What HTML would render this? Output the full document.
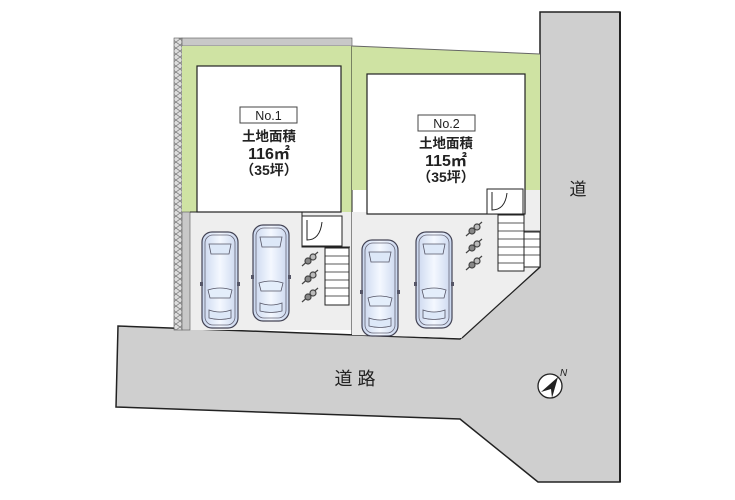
<!DOCTYPE html>
<html><head><meta charset="utf-8"><style>
html,body{margin:0;padding:0;background:#fff;width:735px;height:500px;overflow:hidden}
svg text{font-family:"Liberation Sans","Noto Sans CJK JP",sans-serif}
</style></head><body>
<svg width="735" height="500" viewBox="0 0 735 500" xmlns="http://www.w3.org/2000/svg">
<defs>
<pattern id="hx" width="8" height="6" patternUnits="userSpaceOnUse">
<rect width="8" height="6" fill="#ddd"/><path d="M0 0L8 6M8 0L0 6" stroke="#777" stroke-width="0.7"/>
</pattern>
<linearGradient id="cg" x1="0" x2="1"><stop offset="0" stop-color="#c9d6ee"/><stop offset="0.5" stop-color="#f4f8ff"/><stop offset="1" stop-color="#c9d6ee"/></linearGradient>
<g id="car">
<rect x="0" y="0" width="36" height="96" rx="10" fill="url(#cg)" stroke="#445" stroke-width="1.2"/>
<rect x="3" y="3" width="30" height="90" rx="8" fill="none" stroke="#667" stroke-width="0.8"/>
<path d="M7 12h22l-2 10H9z" fill="#dde8f8" stroke="#556" stroke-width="0.8"/>
<path d="M6 58q12-4 24 0l-2 8H8z" fill="#e4eefb" stroke="#556" stroke-width="0.8"/>
<path d="M7 78q11 4 22 0v8q-11 3-22 0z" fill="#dde8f8" stroke="#556" stroke-width="0.8"/>
<rect x="-2" y="50" width="3" height="4" fill="#556"/><rect x="35" y="50" width="3" height="4" fill="#556"/>
</g>
<g id="bike" stroke="#444" stroke-width="1.2" fill="#888">
<line x1="0" y1="14" x2="16" y2="0"/><circle cx="6" cy="9" r="3"/><circle cx="11" cy="5" r="3" fill="#bbb"/>
</g>
</defs>

<path d="M540 12H620V482H538L460 419L116 407L118 326L460 339L540 267Z" fill="#cfcfcf" stroke="#222" stroke-width="1.5"/>
<line x1="620" y1="12" x2="620" y2="482" stroke="#222" stroke-width="2"/>

<rect x="174" y="38" width="8" height="292" fill="url(#hx)" stroke="#555" stroke-width="0.6"/>
<rect x="182" y="38" width="170" height="8" fill="#c8c8c8" stroke="#555" stroke-width="0.6"/>
<rect x="182" y="46" width="170" height="168" fill="#cfe3a3"/>
<rect x="182" y="212" width="170" height="118" fill="#eeeeee"/>
<rect x="182" y="212" width="8" height="118" fill="#c8c8c8" stroke="#555" stroke-width="0.6"/>
<rect x="197" y="66" width="144" height="146" fill="#fff" stroke="#222" stroke-width="1.2"/>
<path d="M190 212H302V247H350" fill="none" stroke="#222" stroke-width="1"/>
<rect x="302" y="216" width="40" height="30" fill="#fff" stroke="#222"/>
<path d="M307 220V240Q320 240 322 222" fill="none" stroke="#222"/>
<rect x="325" y="248" width="24" height="57" fill="#fff" stroke="#222"/>
<g stroke="#222" stroke-width="0.8"><line x1="325" y1="256" x2="349" y2="256"/><line x1="325" y1="264" x2="349" y2="264"/><line x1="325" y1="272" x2="349" y2="272"/><line x1="325" y1="280" x2="349" y2="280"/><line x1="325" y1="288" x2="349" y2="288"/><line x1="325" y1="296" x2="349" y2="296"/></g>
<line x1="352" y1="46" x2="352" y2="335" stroke="#222" stroke-width="1"/>

<path d="M352 46L540 54V190H352Z" fill="#cfe3a3"/>
<path d="M352 46L540 54" stroke="#666" stroke-width="1"/>
<path d="M352 212H540V267L462 338L352 335Z" fill="#eeeeee"/>
<rect x="487" y="190" width="53" height="24" fill="#eeeeee"/>
<rect x="367" y="74" width="158" height="140" fill="#fff" stroke="#222" stroke-width="1.2"/>
<rect x="487" y="189" width="36" height="25" fill="#fff" stroke="#222"/>
<path d="M492 192V210Q505 210 507 193" fill="none" stroke="#222"/>
<rect x="498" y="215" width="26" height="56" fill="#fff" stroke="#222"/>
<rect x="524" y="232" width="16" height="35" fill="#fff" stroke="#222"/>
<g stroke="#222" stroke-width="0.8"><line x1="498" y1="223" x2="524" y2="223"/><line x1="498" y1="231" x2="540" y2="231"/><line x1="498" y1="239" x2="540" y2="239"/><line x1="498" y1="247" x2="540" y2="247"/><line x1="498" y1="255" x2="540" y2="255"/><line x1="498" y1="263" x2="524" y2="263"/></g>
<path d="M462 338L540 267" stroke="#222" stroke-width="1.2"/>

<use href="#car" x="202" y="232"/>
<use href="#car" x="253" y="225"/>
<use href="#car" x="362" y="240"/>
<use href="#car" x="416" y="232"/>
<use href="#bike" x="302" y="252"/><use href="#bike" x="302" y="270"/><use href="#bike" x="302" y="288"/>
<use href="#bike" x="466" y="222"/><use href="#bike" x="466" y="239"/><use href="#bike" x="466" y="256"/>

<rect x="240" y="107" width="57" height="16" fill="#fff" stroke="#444"/>
<text x="268.5" y="120" font-size="12.5" text-anchor="middle" fill="#222">No.1</text>
<g font-weight="bold" text-anchor="middle" fill="#222">
<text x="269" y="141" font-size="13.5">土地面積</text><text x="269" y="159" font-size="16">116㎡</text><text x="269" y="175" font-size="14">（35坪）</text>
<text x="446" y="148" font-size="13.5">土地面積</text><text x="446" y="166" font-size="16">115㎡</text><text x="446" y="182" font-size="14">（35坪）</text>
</g>
<rect x="418" y="115" width="57" height="16" fill="#fff" stroke="#444"/>
<text x="446.5" y="128" font-size="12.5" text-anchor="middle" fill="#222">No.2</text>

<text x="578" y="195" font-size="17" text-anchor="middle" fill="#222">道</text>
<text x="355" y="385" font-size="18" text-anchor="middle" fill="#222">道 路</text>

<circle cx="550" cy="386" r="12" fill="#fff" stroke="#222" stroke-width="1.3"/>
<path d="M558 377L541 392L551 389L552 398Z" fill="#222"/>
<text x="560" y="376" font-size="10" fill="#222" font-style="italic">N</text>
</svg>
</body></html>
